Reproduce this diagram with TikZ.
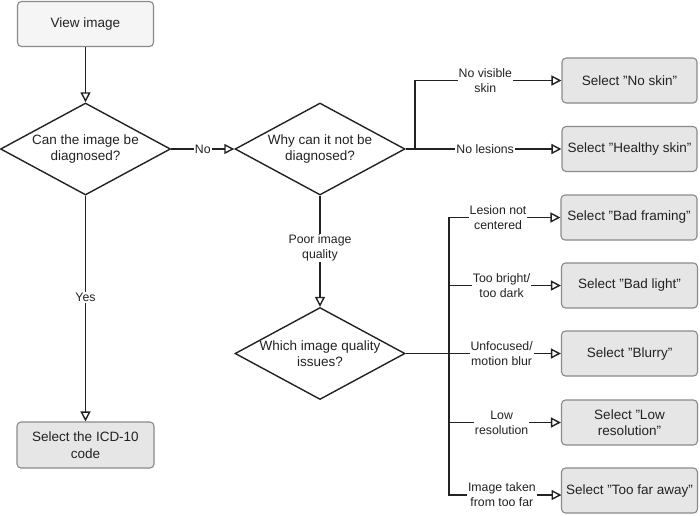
\documentclass[tikz,border=0pt]{standalone}
\usepackage{fontspec}
\setmainfont{Liberation Sans}
\usetikzlibrary{arrows.meta,shapes.geometric}
\definecolor{boxfill}{HTML}{E6E6E6}
\definecolor{boxfillb}{HTML}{F5F5F5}
\definecolor{boxline}{HTML}{8A8A8A}
\definecolor{ink}{HTML}{222222}
\newcommand\dq{\char34 }
\begin{document}
\begin{tikzpicture}[x=1pt,y=-1pt,
  box/.style={draw=boxline, fill=boxfill, rounded corners=4pt, line width=1.1pt,
    align=center, font=\fontsize{13.5}{16.5}\selectfont, text=ink, inner sep=2pt,
    minimum width=136pt, minimum height=45pt},
  dec/.style={diamond, draw=ink, line width=1.4pt, aspect=1.85,
    minimum width=170pt, minimum height=92pt, inner sep=0pt, align=center,
    font=\fontsize{13.5}{16.5}\selectfont, text=ink},
  lbl/.style={fill=white, align=center, font=\fontsize{12.3}{15}\selectfont,
    inner sep=1pt, text=ink},
  arr/.style={draw=ink, line width=1.4pt, -{Triangle[open,length=10pt,width=10pt]}},
  ln/.style={draw=ink, line width=1.4pt}]
\useasboundingbox (0,0) rectangle (700,515);

\node[box, fill=boxfillb] (view) at (85.5,24) {View image};
\node[dec] (d1) at (85.5,149) {Can the image be\\diagnosed?};
\node[dec] (d2) at (320,149) {Why can it not be\\diagnosed?};
\node[dec] (d3) at (320,353.5) {Which image quality\\issues?};
\node[box, minimum width=137pt, minimum height=46pt] (icd) at (85.5,445) {Select the ICD-10\\code};

\node[box, minimum width=135pt] (noskin) at (629.5,80.5) {Select \dq No skin\dq};
\node[box, minimum width=135pt] (healthy) at (629.5,149) {Select \dq Healthy skin\dq};
\node[box] (framing) at (629,217.5) {Select \dq Bad framing\dq};
\node[box] (light) at (629.5,285.5) {Select \dq Bad light\dq};
\node[box] (blurry) at (629.5,353.5) {Select \dq Blurry\dq};
\node[box] (lowres) at (629.5,422.5) {Select \dq Low\\resolution\dq};
\node[box] (far) at (629.5,490.5) {Select \dq Too far away\dq};

\coordinate (b1) at (415,149);
\coordinate (b2) at (449,353.5);
\coordinate (farin) at (561.5,495);

\draw[arr] (view) -- (d1);
\draw[arr] (d1) -- node[lbl]{No} (d2);
\draw[arr] (d1) -- node[lbl,pos=0.45]{Yes} (icd);

\draw[arr] (d2.east) -- node[lbl,pos=0.51]{No lesions} (healthy);
\draw[arr] (b1) |- node[lbl,pos=0.74]{No visible\\skin} (noskin);

\draw[arr] (d2) -- node[lbl,pos=0.47]{Poor image\\quality} (d3);

\draw[arr] (d3.east) -- (b2) -- node[lbl,pos=0.47]{Unfocused/\\motion blur} (blurry);
\draw[arr] (b2) |- node[lbl,pos=0.72]{Lesion not\\centered} (framing);
\draw[arr] (b2) |- node[lbl,pos=0.735]{Too bright/\\too dark} (light);
\draw[arr] (b2) |- node[lbl,pos=0.735]{Low\\resolution} (lowres);
\draw[arr] (b2) |- node[lbl,pos=0.735]{Image taken\\from too far} (farin);
\end{tikzpicture}
\end{document}
